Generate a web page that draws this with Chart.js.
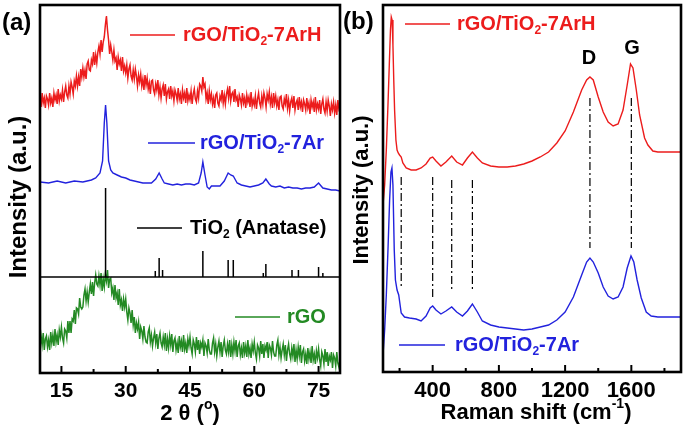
<!DOCTYPE html>
<html lang="en">
<head>
  <meta charset="UTF-8">
  <title>XRD and Raman</title>
  <script src="https://cdn.jsdelivr.net/npm/chart.js"></script>
  <style>
    body {
      margin: 0;
      background: #fff;
      font-family: Arial, "Liberation Sans", sans-serif;
    }
    #boxA { position: absolute; left: 0; top: 0; }
    #boxB { position: absolute; left: 343px; top: 0; }
  </style>
</head>
<body>
  <div id="boxA"><canvas id="xrdChart" width="343" height="434"></canvas></div>
  <div id="boxB"><canvas id="ramanChart" width="342" height="434"></canvas></div>

  <script>
    // ---- XRD (panel a) ----  noisy scans read every 0.25 deg from 10 to 80
    const xrdStart = 10, xrdStep = 0.25;
    const xrdRedArH = [
      276,266,280,270,275,265,277,274,268,280,270,275,266,280,273,278,269,284,272,278,
      274,283,271,281,287,278,275,287,279,291,286,279,292,287,297,287,296,287,304,296,
      305,296,303,294,309,312,303,302,313,309,321,308,318,310,321,327,319,333,321,331,
      336,348,357,343,333,319,328,321,313,323,312,315,303,316,309,313,302,316,302,307,
      300,308,295,304,308,297,293,303,294,304,297,287,298,291,299,287,294,283,298,288,
      295,284,290,279,292,293,283,279,289,283,293,278,286,275,284,288,277,289,274,281,
      284,274,287,277,282,272,283,279,273,285,274,279,269,283,275,280,270,285,272,278,
      273,282,269,279,284,274,271,282,275,289,287,282,296,286,289,274,280,269,282,273,
      279,269,275,265,278,280,270,267,277,273,283,270,278,269,279,284,275,287,272,279,
      281,271,284,273,276,266,278,274,268,280,270,275,265,278,271,276,266,281,267,273,
      268,277,264,274,280,270,266,277,269,280,275,266,279,273,281,269,276,265,280,270,
      277,267,273,263,276,277,267,264,274,269,279,265,273,262,271,275,265,277,263,270,
      273,263,276,266,271,261,273,269,263,275,265,270,259,273,266,271,261,276,263,269,
      264,273,259,269,274,264,260,271,262,273,267,257,269,263,271,260,268,258,273,264,
      267
    ];
    const xrdGreenRGO = [
      25,37,28,40,23,34,37,26,33,23,41,30,38,27,44,31,38,28,43,36,
      46,35,30,44,42,35,52,40,52,40,54,52,63,49,65,64,59,75,66,64,
      66,78,84,72,81,71,81,89,79,91,77,90,98,89,87,97,88,100,82,94,
      86,99,92,103,85,94,95,80,85,73,88,75,80,68,84,68,73,62,74,66,
      74,61,53,65,60,50,63,48,56,40,50,44,51,34,46,42,34,47,36,31,
      30,41,45,31,38,27,35,41,30,39,24,35,40,30,26,36,28,40,22,34,
      25,37,28,39,21,32,35,23,30,20,37,26,32,21,38,24,30,20,34,27,
      36,25,19,33,29,21,36,23,33,19,30,26,33,17,30,27,20,34,23,19,
      19,30,35,21,29,17,26,32,21,31,16,27,33,23,19,29,21,33,16,28,
      19,31,22,33,16,27,30,18,25,15,31,20,27,16,33,19,25,15,29,22,
      31,20,14,28,25,17,32,19,29,15,27,23,31,15,28,25,18,32,21,17,
      17,28,33,18,26,15,23,29,18,28,12,23,29,19,14,25,17,29,11,23,
      14,26,17,28,10,21,24,12,19,9,25,14,21,10,27,13,19,9,22,15,
      24,13,7,21,17,9,24,11,21,7,17,13,21,5,18,15,7,21,10,6,
      13
    ];
    const xrdBlueX = [10,12,14,16,18,20,22,23,24,24.6,25,25.3,25.6,26,26.5,27,28,29,30,31,32,33,34,35,36,37,37.8,38.5,39,40,41,42,43,44,45,46,47,47.6,48,48.5,49,49.5,50,51,52,53,53.9,54.5,55.1,56,57,58,59,60,61,62,62.7,63.5,64,65,66,67,68,69,70,71,72,73,74,75,76,77,78,79,80];
    const xrdBlueAr = [191,190,192,190,192,191,193,195,200,212,250,268,250,212,203,200,198,196,195,193,192,191,190,190,190,194,200,194,190,189,188,189,188,189,189,188,190,200,211,198,186,184,187,187,187,192,200,198,197,190,188,187,186,187,188,190,194,189,187,186,187,185,186,185,185,184,185,185,186,190,185,184,183,183,182];
    // anatase reference pattern (stick positions and heights)
    const refBase = 96;
    const refPos = [25.3, 36.9, 37.8, 38.6, 48.0, 53.9, 55.1, 62.1, 62.7, 68.8, 70.3, 75.0, 76.0];
    const refHeight = [89, 6, 19, 7, 26, 17, 17, 4, 13, 7, 7, 10, 4];
    const xrdTicks = [15, 22.5, 30, 37.5, 45, 52.5, 60, 67.5, 75];

    // ---- Raman (panel b) ----
    const ramanRedX = [100,110,120,130,138,145,150,155,160,165,170,178,185,192,200,210,220,240,270,300,330,360,385,400,420,450,480,515,545,580,610,640,670,700,750,800,850,900,950,1000,1050,1100,1150,1200,1250,1300,1330,1350,1370,1400,1430,1460,1490,1520,1550,1575,1595,1610,1630,1650,1680,1700,1730,1760,1800,1850,1900];
    const ramanRedArH = [167,187,222,267,307,342,355,352,327,292,262,232,222,219,217,215,209,204,202,202,204,208,214,215,211,206,210,216,210,207,214,220,214,209,206,205,205,206,208,211,215,220,229,241,260,282,292,295,292,275,260,250,246,248,262,287,308,304,282,257,234,227,221,220,220,220,220];
    const ramanBlueX = [100,110,120,130,140,148,154,160,168,175,185,195,210,230,260,300,330,360,385,400,420,450,480,515,545,580,610,640,670,700,750,800,850,900,950,1000,1050,1100,1150,1200,1250,1300,1330,1350,1370,1400,1430,1460,1490,1520,1550,1575,1598,1615,1635,1660,1690,1720,1760,1800,1900];
    const ramanBlueAr = [17,42,77,122,172,200,204,187,122,92,82,77,59,55,54,53,51,56,64,66,62,58,61,65,60,56,61,68,60,51,47,45,44,43,42,43,45,47,52,60,75,97,110,114,110,99,85,76,73,75,85,104,116,110,92,74,60,56,55,55,55];
    // dash-dot guide lines: position, top, bottom
    const guidePos = [210, 400, 515, 640, 1350, 1600];
    const guideTop = [195, 195, 192, 192, 274, 274];
    const guideBottom = [84, 75, 82, 82, 124, 124];
    const ramanTicks = [200, 400, 600, 800, 1000, 1200, 1400, 1600, 1800];

    const RED = '#ec1c1c', BLUE = '#2222dd', GREEN = '#238a23', BLACK = '#000';
    const FONT = 'Arial, "Liberation Sans", sans-serif';

    function pts(xs, ys) {
      return ys.map((y, i) => ({ x: xs[i], y: y }));
    }

    // draw text with sub/superscripts: parts = [[text, 'sub'|'sup'|'']]
    function richText(ctx, x, y, parts, size, color, align) {
      const widths = parts.map(p => {
        ctx.font = 'bold ' + (p[1] ? Math.round(size * 0.62) : size) + 'px ' + FONT;
        return ctx.measureText(p[0]).width;
      });
      const total = widths.reduce((a, b) => a + b, 0);
      let cx = align === 'center' ? x - total / 2 : x;
      ctx.fillStyle = color;
      ctx.textBaseline = 'middle';
      ctx.textAlign = 'left';
      parts.forEach((p, i) => {
        ctx.font = 'bold ' + (p[1] ? Math.round(size * 0.62) : size) + 'px ' + FONT;
        let dy = 0;
        if (p[1] === 'sub') dy = size * 0.32;
        if (p[1] === 'sup') dy = -size * 0.38;
        ctx.fillText(p[0], cx, y + dy);
        cx += widths[i];
      });
    }

    function decoPlugin(cfg) {
      return {
        id: 'deco',
        afterDatasetsDraw(chart) {
          const ctx = chart.ctx;
          const a = chart.chartArea;
          const xs = chart.scales.x;
          ctx.save();
          // inward tick marks
          ctx.strokeStyle = BLACK;
          ctx.lineWidth = 2;
          xs.ticks.forEach(t => {
            const px = xs.getPixelForValue(t.value);
            const len = t.label !== '' ? 7 : 4;
            ctx.beginPath();
            ctx.moveTo(px, a.bottom);
            ctx.lineTo(px, a.bottom - len);
            ctx.stroke();
          });
          // frame
          ctx.lineWidth = 2.6;
          ctx.strokeRect(a.left, a.top, a.right - a.left, a.bottom - a.top);
          // legend samples
          cfg.samples.forEach(s => {
            ctx.strokeStyle = s[3];
            ctx.lineWidth = 1.6;
            ctx.beginPath();
            ctx.moveTo(s[0], s[2]);
            ctx.lineTo(s[1], s[2]);
            ctx.stroke();
          });
          cfg.texts.forEach(t => richText(ctx, t.x, t.y, t.parts, t.size, t.color, t.align));
          // rotated y title
          ctx.translate(cfg.yTitle.x, cfg.yTitle.y);
          ctx.rotate(-Math.PI / 2);
          richText(ctx, 0, 0, [['Intensity (a.u.)', '']], cfg.yTitle.size, BLACK, 'center');
          ctx.restore();
        }
      };
    }

    function baseOptions(xMin, xMax, tickVals, major, yMax, padRight, xHeight, tickSize) {
      return {
        responsive: false,
        animation: false,
        layout: { padding: { top: 5, right: padRight, left: 0, bottom: 0 } },
        plugins: { legend: { display: false }, tooltip: { enabled: false } },
        elements: { point: { radius: 0 }, line: { tension: 0 } },
        scales: {
          x: {
            type: 'linear', min: xMin, max: xMax,
            grid: { display: false, drawTicks: false },
            border: { display: false },
            ticks: {
              padding: 6,
              color: BLACK, font: { size: tickSize, weight: 'bold', family: FONT },
              maxRotation: 0, autoSkip: false,
              callback: v => (v % major === 0 ? v : '')
            },
            afterBuildTicks: s => { s.ticks = tickVals.map(v => ({ value: v })); },
            afterFit: s => { s.height = xHeight; }
          },
          y: {
            min: 0, max: yMax,
            grid: { display: false },
            border: { display: false },
            ticks: { display: false },
            afterFit: s => { s.width = 40; }
          }
        }
      };
    }

    // sticks of the reference pattern, separated by gaps
    const refSticks = [];
    refPos.forEach((p, i) => {
      refSticks.push({ x: p, y: refBase }, { x: p, y: refBase + refHeight[i] }, { x: p, y: null });
    });
    const xrdGrid = xrdRedArH.map((_, i) => xrdStart + i * xrdStep);

    new Chart(document.getElementById('xrdChart'), {
      type: 'line',
      data: {
        datasets: [
          { data: pts(xrdGrid, xrdRedArH), borderColor: RED, borderWidth: 1.5 },
          { data: pts(xrdBlueX, xrdBlueAr), borderColor: BLUE, borderWidth: 1.4 },
          { data: [{ x: 10, y: refBase }, { x: 80, y: refBase }], borderColor: BLACK, borderWidth: 1.3 },
          { data: refSticks, borderColor: BLACK, borderWidth: 1.5, spanGaps: false },
          { data: pts(xrdGrid, xrdGreenRGO), borderColor: GREEN, borderWidth: 1.5 }
        ]
      },
      options: baseOptions(10, 80, xrdTicks, 15, 368, 3, 61, 21),
      plugins: [decoPlugin({
        samples: [[130, 175, 35, RED], [148, 195, 143, BLUE], [137, 182, 228, BLACK], [235, 280, 317, GREEN]],
        texts: [
          { x: 2, y: 23, parts: [['(a)', '']], size: 24, color: BLACK },
          { x: 183, y: 35, parts: [['rGO/TiO', ''], ['2', 'sub'], ['-7ArH', '']], size: 20, color: RED },
          { x: 200, y: 143, parts: [['rGO/TiO', ''], ['2', 'sub'], ['-7Ar', '']], size: 20, color: BLUE },
          { x: 190, y: 228, parts: [['TiO', ''], ['2', 'sub'], [' (Anatase)', '']], size: 20, color: BLACK },
          { x: 287, y: 317, parts: [['rGO', '']], size: 20, color: GREEN },
          { x: 190, y: 414, parts: [['2 \u03b8 (', ''], ['o', 'sup'], [')', '']], size: 22, color: BLACK, align: 'center' }
        ],
        yTitle: { x: 19, y: 197, size: 24 }
      })]
    });

    const guides = [];
    guidePos.forEach((p, i) => {
      guides.push({ x: p, y: guideTop[i] }, { x: p, y: guideBottom[i] }, { x: p, y: null });
    });

    new Chart(document.getElementById('ramanChart'), {
      type: 'line',
      data: {
        datasets: [
          { data: pts(ramanRedX, ramanRedArH), borderColor: RED, borderWidth: 1.4 },
          { data: pts(ramanBlueX, ramanBlueAr), borderColor: BLUE, borderWidth: 1.4 },
          { data: guides, borderColor: BLACK, borderWidth: 1.2, borderDash: [8, 3, 2, 3], spanGaps: false }
        ]
      },
      options: baseOptions(100, 1900, ramanTicks, 400, 367, 4, 62, 22),
      plugins: [decoPlugin({
        samples: [[62, 107, 24, RED], [56, 102, 345, BLUE]],
        texts: [
          { x: 0, y: 22, parts: [['(b)', '']], size: 24, color: BLACK },
          { x: 114, y: 24, parts: [['rGO/TiO', ''], ['2', 'sub'], ['-7ArH', '']], size: 20, color: RED },
          { x: 112, y: 345, parts: [['rGO/TiO', ''], ['2', 'sub'], ['-7Ar', '']], size: 20, color: BLUE },
          { x: 246, y: 58, parts: [['D', '']], size: 20, color: BLACK, align: 'center' },
          { x: 289, y: 48, parts: [['G', '']], size: 20, color: BLACK, align: 'center' },
          { x: 193, y: 413, parts: [['Raman shift (cm', ''], ['-1', 'sup'], [')', '']], size: 22, color: BLACK, align: 'center' }
        ],
        yTitle: { x: 19, y: 190, size: 22 }
      })]
    });
  </script>
</body>
</html>
